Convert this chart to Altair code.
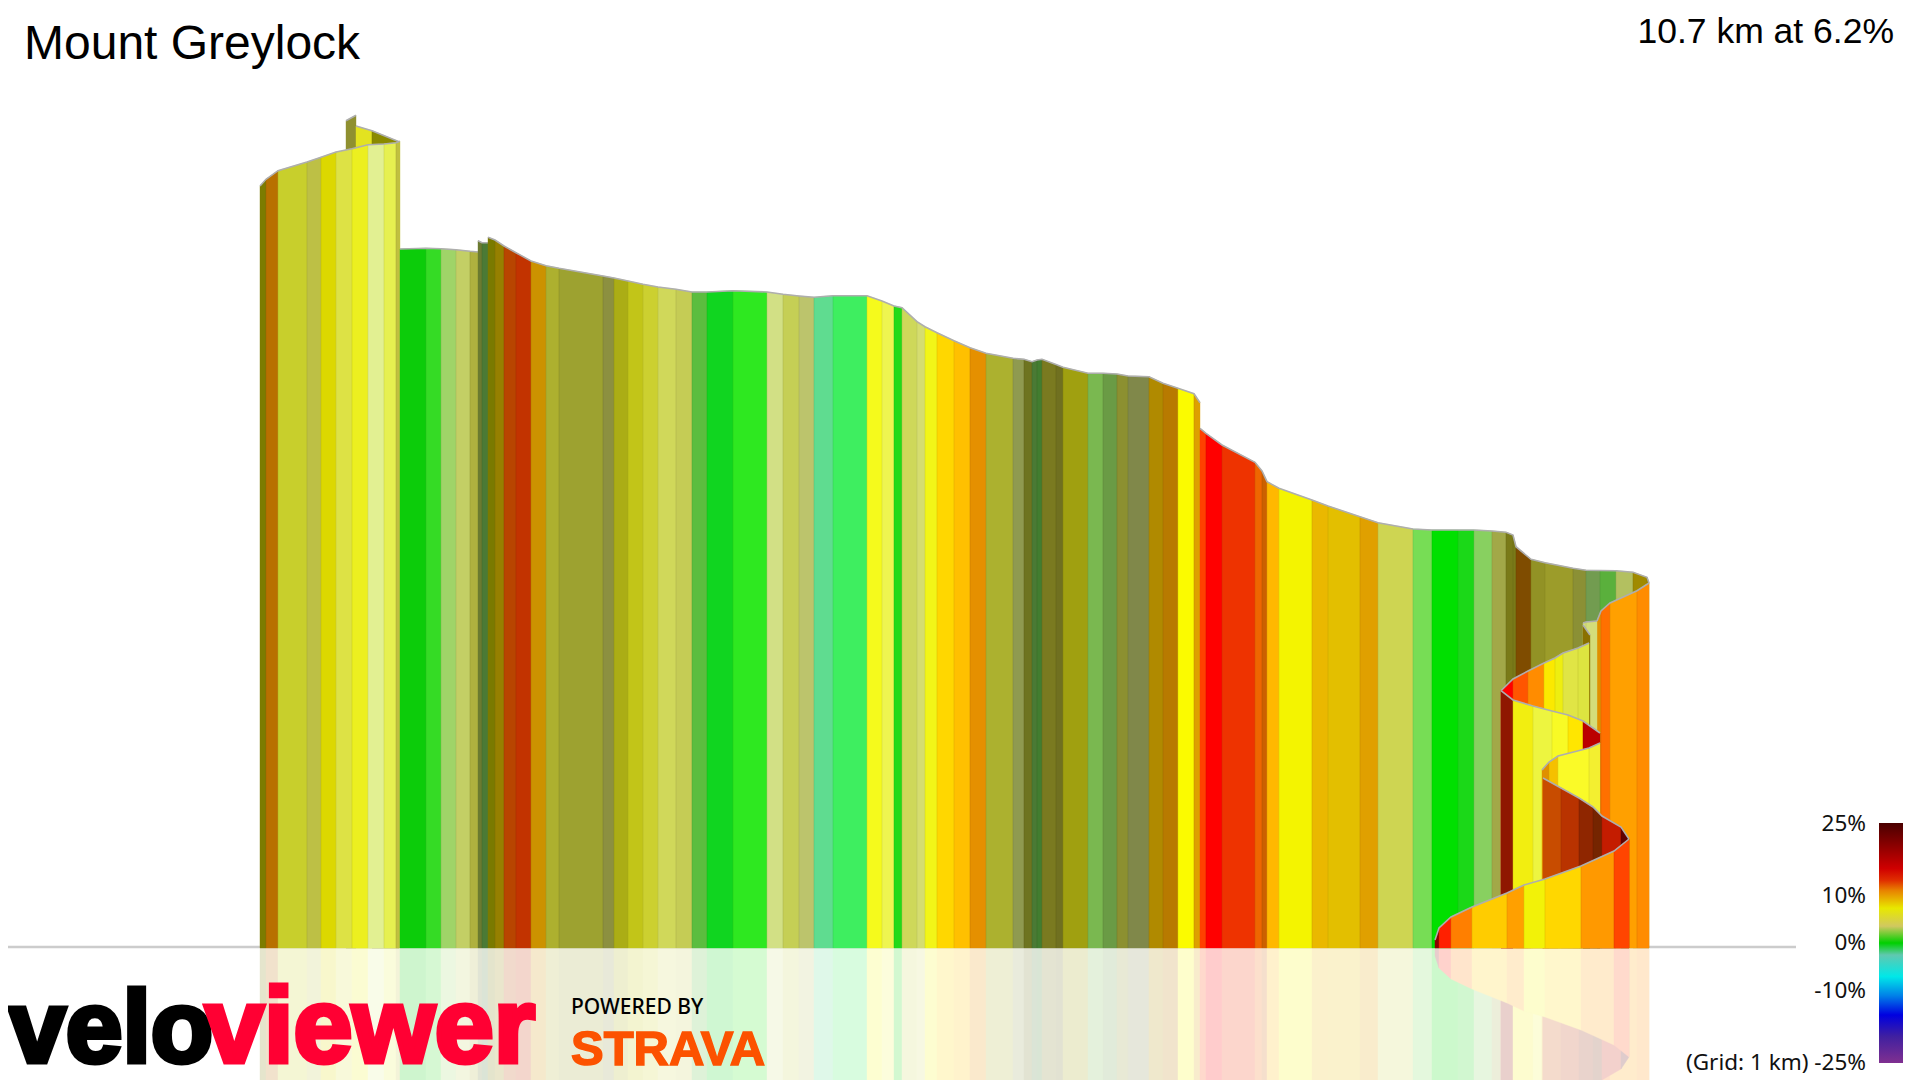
import altair as alt
import pandas as pd

BASE = 948
# ribbons, back to front: breakpoints, top edge, strip colours
fold_back_x = [346, 356]
fold_back_top = [120.7, 115.3]
fold_back_col = ["#8f9030"]
back_x = [356, 372, 399]
back_top = [126, 130.7, 141.7]
back_col = ["#e3e320", "#8a8a00"]
front_x = [260, 266, 278, 307, 321, 336, 352, 368, 384, 396, 400]
front_top = [186, 179.3, 170.7, 162, 157.3, 152, 148.7, 144.7, 144, 142.7, 141.3]
front_col = ["#7c7c00", "#b87000", "#c8cf2c", "#bdc045", "#dcd800", "#dde245", "#ecef20", "#e2f092", "#e6f050", "#c0c040"]
wall1_x = [400, 426, 441, 456, 470, 478]
wall1_top = [249, 248.3, 248.7, 249.7, 251.3, 252]
wall1_col = ["#0ccc0a", "#35db25", "#9fd468", "#c3cf65", "#afb13f"]
fold_x = [478, 482, 488]
fold_top = [240.7, 242.7, 242.7]
fold_col = ["#6b7a30", "#4b7a35"]
wall2_x = [488, 495, 504, 516, 531, 546, 559, 603, 614, 628, 643, 658, 676, 692, 707, 733, 767, 783, 799, 814, 833, 867,
           882, 894, 902, 917, 925, 937, 954, 970, 986, 1013, 1024, 1032, 1037, 1042, 1056, 1063, 1088, 1103, 1117, 1128,
           1149, 1163, 1178, 1194, 1200]
wall2_top = [237.3, 240, 246, 252.7, 261, 265.7, 268.3, 276, 278, 281, 284.3, 287, 289.3, 292, 292, 290.7, 292, 294.3, 296,
             297.3, 295.7, 295.7, 301, 306, 307.7, 321.7, 326.7, 332.7, 340.7, 347.7, 353.3, 358.3, 359.3, 361.7, 360, 359.3,
             364.6, 367.3, 373.3, 373.3, 374, 376, 376.7, 383.3, 388.3, 393.7, 402.7]
wall2_col = ["#7a7a00", "#968000", "#b84500", "#c23300", "#cc9200", "#adb02f", "#9da230", "#8c9040", "#abad15", "#c2c518",
             "#ccd030", "#d0d85a", "#c5cc55", "#5bbd3f", "#10d520", "#2ee820", "#d2e085", "#c5cf55", "#bcc46c", "#5fdc90",
             "#3eee60", "#f5fa1c", "#eef550", "#22da18", "#ced85a", "#d5dd70", "#f2f518", "#ffd700", "#ffc000", "#e59000",
             "#acb12f", "#8f9a50", "#6e7420", "#4a7a35", "#427d30", "#7a7a20", "#707020", "#a0a010", "#7ab850", "#6a9b45",
             "#8c9030", "#80884a", "#b08a00", "#b87a00", "#fbfb00", "#dda000"]
wall3_x = [1200, 1206, 1222, 1255, 1262, 1267, 1279, 1312, 1328, 1360, 1378, 1413, 1432, 1458, 1474, 1492, 1506, 1513, 1516,
           1531, 1545, 1573, 1586, 1600, 1616, 1633, 1647, 1649]
wall3_top = [428.3, 433.3, 445, 462.3, 471, 481.7, 488.3, 500, 506, 516.7, 522.7, 529, 530, 530, 530, 531, 532.3, 535, 546.7,
             559.3, 562.7, 568.3, 570.3, 570.5, 570.7, 572.3, 577.3, 583]
wall3_col = ["#ff4000", "#ff0000", "#ee3300", "#ee6600", "#cc6000", "#ffb800", "#f4f400", "#eab800", "#e3bf00", "#e0a000",
             "#ced552", "#77dd55", "#00e000", "#1bd818", "#88d060", "#a2a848", "#7a7a18", "#7a7a18", "#7f4c00", "#929225",
             "#9c9c2a", "#8b9035", "#729c50", "#5ab03c", "#b3c060", "#a08a00", "#a08a00"]
right_x = [1597, 1601, 1610, 1637, 1649]
right_top = [621, 611, 603, 590.7, 583]
right_col = ["#e09000", "#ff7000", "#ffa000", "#ff8c00"]
pale_x = [1583, 1586, 1597]
pale_top = [623, 622, 621]
pale_col = ["#d4dd7a", "#d4dd7a"]
dark_x = [1583, 1590]
dark_top = [625, 635]
dark_col = ["#8a7000"]
loop_c_x = [1501, 1513, 1528, 1544, 1555, 1563, 1578, 1589]
loop_c_top = [690.7, 679, 671, 663, 658, 653, 648, 643]
loop_c_col = ["#ff0000", "#ff5500", "#ff8c00", "#fbe900", "#eeee10", "#e0e545", "#dde540"]
loop_d_x = [1501, 1513, 1533, 1552, 1568, 1583, 1600]
loop_d_top = [690.7, 700, 706, 711, 715, 721, 733]
loop_d_col = ["#8f1700", "#f2ee10", "#edf540", "#f8fa25", "#ffe600", "#bb0000"]
loop_e_x = [1542, 1549, 1558, 1589, 1600]
loop_e_top = [770, 762, 756, 748, 743]
loop_e_col = ["#e09000", "#f5c000", "#fafa28", "#f3ef30"]
loop_b_x = [1543, 1561, 1579, 1593, 1602, 1621, 1629]
loop_b_top = [778, 788, 798, 807, 816, 827, 839]
loop_b_col = ["#c84c00", "#b93300", "#8f2600", "#752500", "#c41c00", "#600000"]
loop_a_x = [1435, 1439, 1451, 1472, 1507, 1524, 1545, 1581, 1614, 1629]
loop_a_top = [940, 928, 917, 907, 893, 885, 879, 866, 851, 839]
loop_a_col = ["#8b0000", "#ff2000", "#ff7f00", "#ffcc00", "#ffa000", "#f2f208", "#ffd700", "#ff9900", "#ff4500"]

ribbons = [
    (fold_back_x, fold_back_top, fold_back_col), (back_x, back_top, back_col), (front_x, front_top, front_col),
    (wall1_x, wall1_top, wall1_col), (fold_x, fold_top, fold_col), (wall2_x, wall2_top, wall2_col),
    (wall3_x, wall3_top, wall3_col), (right_x, right_top, right_col), (pale_x, pale_top, pale_col),
    (dark_x, dark_top, dark_col), (loop_c_x, loop_c_top, loop_c_col), (loop_d_x, loop_d_top, loop_d_col),
    (loop_e_x, loop_e_top, loop_e_col), (loop_b_x, loop_b_top, loop_b_col), (loop_a_x, loop_a_top, loop_a_col),
]

legend_labels = ["25%", "10%", "0%", "-10%", "(Grid: 1 km) -25%"]
legend_y = [831, 903, 950, 998, 1070]
legend_stops = [(0, "#4a0000"), (.07, "#7a0000"), (.19, "#d00000"), (.24, "#e03000"), (.28, "#e88000"), (.355, "#e8e800"),
                (.43, "#d0c860"), (.50, "#00d000"), (.55, "#60c8b0"), (.64, "#00e8e8"), (.72, "#0080e8"), (.80, "#0000e0"),
                (.89, "#4020a0"), (1, "#803090")]

X = alt.Scale(domain=[8, 1912], range=[0, 1904], nice=False, zero=False)
Y = alt.Scale(domain=[8, 1080], range=[0, 1072], nice=False, zero=False)
xe = alt.X("x:Q", scale=X, axis=None)
ye = alt.Y("y:Q", scale=Y, axis=None)

def strips(xs, tops, cols, mirror=False):
    rows = []
    for i, c in enumerate(cols):
        for j in (i, i + 1):
            t = 2 * BASE - tops[j] if mirror else tops[j]
            rows.append({"s": i, "x": xs[j], "y": t, "y2": BASE, "c": c})
    return pd.DataFrame(rows)

def area(df):
    return alt.Chart(df).mark_area(clip=True, interpolate="linear", strokeWidth=0.4).encode(
        x=xe, y=ye, y2="y2:Q", detail="s:N",
        fill=alt.Fill("c:N", scale=None), stroke=alt.Stroke("c:N", scale=None))

layers = []
# mirrored reflection, veiled with white
for xs, tops, cols in ribbons:
    layers.append(area(strips(xs, tops, cols, True)))
layers.append(alt.Chart(pd.DataFrame({"x": [8], "x2": [1912], "y": [BASE], "y2": [1080]})).mark_rect(
    fill="white", opacity=0.8, clip=True).encode(x=xe, x2="x2:Q", y=ye, y2="y2:Q"))
# baseline
layers.append(alt.Chart(pd.DataFrame({"x": [8], "x2": [1796], "y": [947]})).mark_rule(
    color="#cccccc", strokeWidth=2.5).encode(x=xe, x2="x2:Q", y=ye))
# ribbons
for xs, tops, cols in ribbons:
    df = strips(xs, tops, cols)
    layers.append(area(df))
    sep = pd.DataFrame({"x": xs[1:-1], "y": tops[1:-1], "y2": [BASE] * (len(xs) - 2)})
    if len(sep):
        layers.append(alt.Chart(sep).mark_rule(color="black", opacity=0.07, strokeWidth=1).encode(x=xe, y=ye, y2="y2:Q"))
    layers.append(alt.Chart(pd.DataFrame({"x": xs, "y": tops})).mark_line(
        color="#aeaeae", strokeWidth=1.6, interpolate="linear").encode(x=xe, y=ye))

def text(rows, **kw):
    return alt.Chart(pd.DataFrame(rows)).mark_text(**kw).encode(x=xe, y=ye, text="t:N")

layers.append(text([{"t": "Mount Greylock", "x": 24, "y": 59}], font="Liberation Sans", fontSize=48, align="left",
                   baseline="alphabetic", color="black"))
layers.append(text([{"t": "10.7 km at 6.2%", "x": 1894, "y": 43}], font="Liberation Sans", fontSize=35.5, align="right",
                   baseline="alphabetic", color="black"))
layers.append(text([{"t": t, "x": 1866, "y": y} for t, y in zip(legend_labels, legend_y)], font="Noto Sans", fontSize=22.5,
                   align="right", baseline="alphabetic", color="#111111"))
layers.append(alt.Chart(pd.DataFrame({"x": [1879], "x2": [1903], "y": [823], "y2": [1063]})).mark_rect(
    fill=alt.Gradient(gradient="linear", x1=0, x2=0, y1=0, y2=1,
                      stops=[alt.GradientStop(offset=o, color=c) for o, c in legend_stops])
).encode(x=xe, x2="x2:Q", y=ye, y2="y2:Q"))
layers.append(text([{"t": "velo", "x": 9, "y": 1062}], font="Liberation Sans", fontWeight="bold",
                   fontSize=102, align="left", baseline="alphabetic", color="black", stroke="black", strokeWidth=5))
layers.append(text([{"t": "viewer", "x": 205, "y": 1062}], font="Liberation Sans", fontWeight="bold",
                   fontSize=106, align="left", baseline="alphabetic", color="#ff0033", stroke="#ff0033", strokeWidth=5))
layers.append(text([{"t": "POWERED BY", "x": 571, "y": 1014}], font="Noto Sans", fontWeight=500, fontSize=21, align="left",
                   baseline="alphabetic", color="black"))
layers.append(text([{"t": "STRAVA", "x": 571, "y": 1065}], font="Liberation Sans", fontWeight="bold", fontSize=49,
                   align="left", baseline="alphabetic", color="#fc5200", stroke="#fc5200", strokeWidth=1.5))

chart = alt.layer(*layers).properties(
    width=1904, height=1072, padding=0, autosize=alt.AutoSizeParams(type="none"), background="white"
).configure_view(stroke=None)
chart.save("out.html", embed_options={"renderer": "svg", "actions": False})
